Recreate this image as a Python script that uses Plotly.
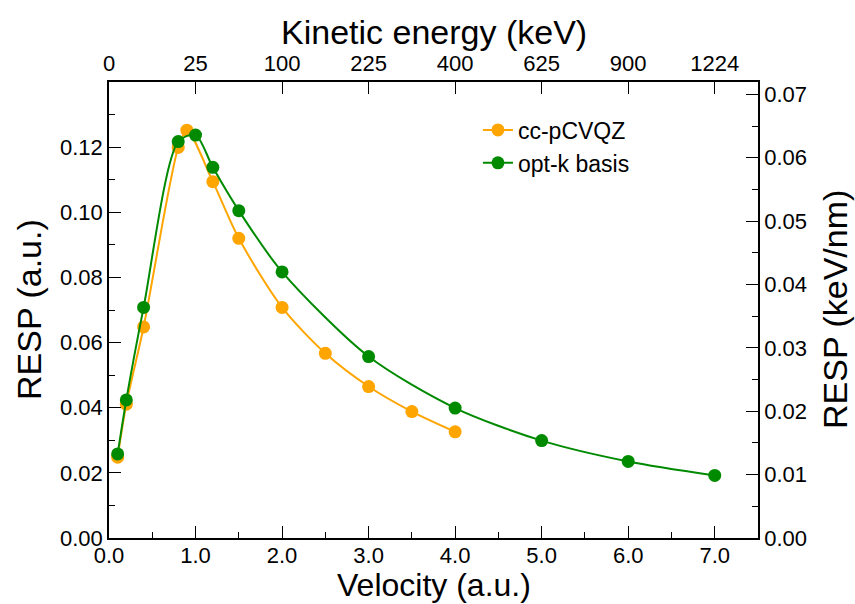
import plotly.graph_objects as go

# ---- data ----
velocity_cc = [0.1, 0.2, 0.4, 0.8, 0.9, 1.2, 1.5, 2.0, 2.5, 3.0, 3.5, 4.0]
resp_cc = [0.0248, 0.0411, 0.0648, 0.1199, 0.1252, 0.1094, 0.0920, 0.0708, 0.0567, 0.0465, 0.0388, 0.0326]

velocity_opt = [0.1, 0.2, 0.4, 0.8, 1.0, 1.2, 1.5, 2.0, 3.0, 4.0, 5.0, 6.0, 7.0]
resp_opt = [0.0258, 0.0424, 0.0708, 0.1217, 0.1237, 0.1138, 0.1005, 0.0817, 0.0557, 0.0399, 0.0299, 0.0235, 0.0192]

bottom_ticks = [0, 1, 2, 3, 4, 5, 6, 7]
top_tick_labels = ["0", "25", "100", "225", "400", "625", "900", "1224"]
left_ticks = [0, 0.02, 0.04, 0.06, 0.08, 0.10, 0.12]
right_ticks = [0, 0.01, 0.02, 0.03, 0.04, 0.05, 0.06, 0.07]
au_to_kev_nm = 0.514

ORANGE = "#FFA500"
GREEN = "#008A00"
FONT = "Liberation Sans, Arial, sans-serif"

fig = go.Figure()
fig.add_trace(go.Scatter(
    x=velocity_cc, y=resp_cc, mode="lines+markers", name="cc-pCVQZ",
    line=dict(color=ORANGE, width=2, shape="spline", smoothing=0.8),
    marker=dict(color=ORANGE, size=13)))
fig.add_trace(go.Scatter(
    x=velocity_opt, y=resp_opt, mode="lines+markers", name="opt-k basis",
    line=dict(color=GREEN, width=2, shape="spline", smoothing=0.8),
    marker=dict(color=GREEN, size=13)))
# carrier trace for secondary axes
fig.add_trace(go.Scatter(x=[None], y=[None], xaxis="x2", yaxis="y2",
                         showlegend=False, hoverinfo="skip"))

ymax = 0.14
tickfont = dict(family=FONT, size=22, color="black")
common = dict(ticks="inside", ticklen=12, tickwidth=1, tickcolor="black",
              showline=True, linecolor="black", linewidth=1.5,
              showgrid=False, zeroline=False, tickfont=tickfont)
fig.update_layout(
    width=855, height=604,
    margin=dict(l=109, r=97, t=82, b=66),
    paper_bgcolor="white", plot_bgcolor="white",
    font=dict(family=FONT, color="black"),
    xaxis=dict(range=[0, 7.5], tickvals=bottom_ticks, tickformat=".1f",
               ticklabelstandoff=-3,
               minor=dict(ticks="inside", ticklen=6, dtick=0.5, tick0=0, tickcolor="black"),
               **common),
    xaxis2=dict(range=[0, 7.5], overlaying="x", side="top", anchor="y",
                tickvals=bottom_ticks, ticktext=top_tick_labels, **common),
    yaxis=dict(range=[0, ymax], tickvals=left_ticks, tickformat=".2f",
               minor=dict(ticks="inside", ticklen=6, dtick=0.01, tick0=0, tickcolor="black"),
               **common),
    yaxis2=dict(range=[0, ymax * au_to_kev_nm], overlaying="y", side="right", anchor="x",
                tickvals=right_ticks, tickformat=".2f",
                minor=dict(ticks="inside", ticklen=6, dtick=0.005, tick0=0, tickcolor="black"),
                **common),
    legend=dict(x=0.5685, y=0.942, xanchor="left", yanchor="top",
                font=dict(family=FONT, size=23, color="black"),
                bgcolor="rgba(0,0,0,0)", tracegroupgap=0),
    showlegend=True,
    annotations=[
        dict(text="Velocity (a.u.)", xref="paper", yref="paper", x=0.5, y=0,
             yshift=-47, xanchor="center", yanchor="middle", showarrow=False,
             font=dict(family=FONT, size=32)),
        dict(text="Kinetic energy (keV)", xref="paper", yref="paper", x=0.5, y=1,
             yshift=50, xanchor="center", yanchor="middle", showarrow=False,
             font=dict(family=FONT, size=34)),
        dict(text="RESP (a.u.)", xref="paper", yref="paper", x=0, y=0.5,
             xshift=-80, textangle=-90, xanchor="center", yanchor="middle",
             showarrow=False, font=dict(family=FONT, size=34)),
        dict(text="RESP (keV/nm)", xref="paper", yref="paper", x=1, y=0.5,
             xshift=77, textangle=-90, xanchor="center", yanchor="middle",
             showarrow=False, font=dict(family=FONT, size=34)),
    ],
)

fig.write_html("out.html", config={"displayModeBar": False})

# remove default page margin so the figure sits at the window's top-left corner
with open("out.html", "r", encoding="utf-8") as f:
    html = f.read()
html = html.replace("<head>", "<head><style>html,body{margin:0;padding:0;}</style>", 1)
with open("out.html", "w", encoding="utf-8") as f:
    f.write(html)
